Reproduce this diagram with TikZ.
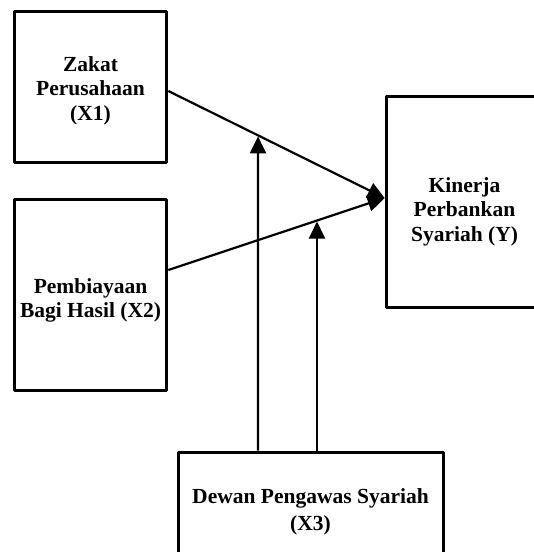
\documentclass[tikz,border=0pt]{standalone}
\usepackage{fontspec}
\setmainfont{Liberation Serif}
\usetikzlibrary{arrows.meta,calc}
\begin{document}
\begin{tikzpicture}[x=1pt,y=-1pt,
  box/.style={draw,line width=3.6pt,line join=round,inner sep=0pt},
  lbl/.style={align=center,font=\bfseries\fontsize{21.5}{24.5}\selectfont,inner sep=0pt},
  conn/.style={line width=2.2pt,-{Triangle[length=17pt,width=16pt]}}]
\path[use as bounding box] (0,0) rectangle (534,552);
\clip (0,0) rectangle (534,552);
% boxes
\node[box,minimum width=152pt,minimum height=151pt] (x1) at (90.5,87) {};
\node[lbl] (t1) at (90.5,90.5) {Zakat\\Perusahaan\\(X1)};
\node[box,minimum width=152pt,minimum height=191pt] (x2) at (90.5,295) {};
\node[lbl] (t2) at (90.5,300.5) {Pembiayaan\\Bagi Hasil (X2)};
\node[box,minimum width=158.5pt,minimum height=211pt] (y) at (465.75,202) {};
\node[lbl] (ty) at (464.5,211.5) {Kinerja\\Perbankan\\Syariah (Y)};
\node[box,minimum width=265pt,minimum height=112.5pt] (x3) at (311,508.75) {};
\node[lbl,font=\bfseries\fontsize{21.5}{27}\selectfont] (t3) at (310.5,511.5) {Dewan Pengawas Syariah\\(X3)};
% connector points
\coordinate (s1) at ([yshift=-4pt]x1.east);
\coordinate (s2) at ([yshift=25pt]x2.east);
\coordinate (e) at ([yshift=4pt]y.west);
\coordinate (b1) at ([xshift=-53pt]x3.north);
\coordinate (b2) at ([xshift=6pt]x3.north);
\coordinate (b1u) at ([yshift=300pt]b1);
\coordinate (b2u) at ([yshift=300pt]b2);
\coordinate (m1) at (intersection of s1--e and b1--b1u);
\coordinate (m2) at (intersection of s2--e and b2--b2u);
% connectors
\draw[conn] (s1) -- (e);
\draw[conn] (s2) -- (e);
\draw[conn] (b1) -- ([yshift=-1pt]m1);
\draw[conn] (b2) -- ([yshift=-1pt]m2);
\end{tikzpicture}
\end{document}
